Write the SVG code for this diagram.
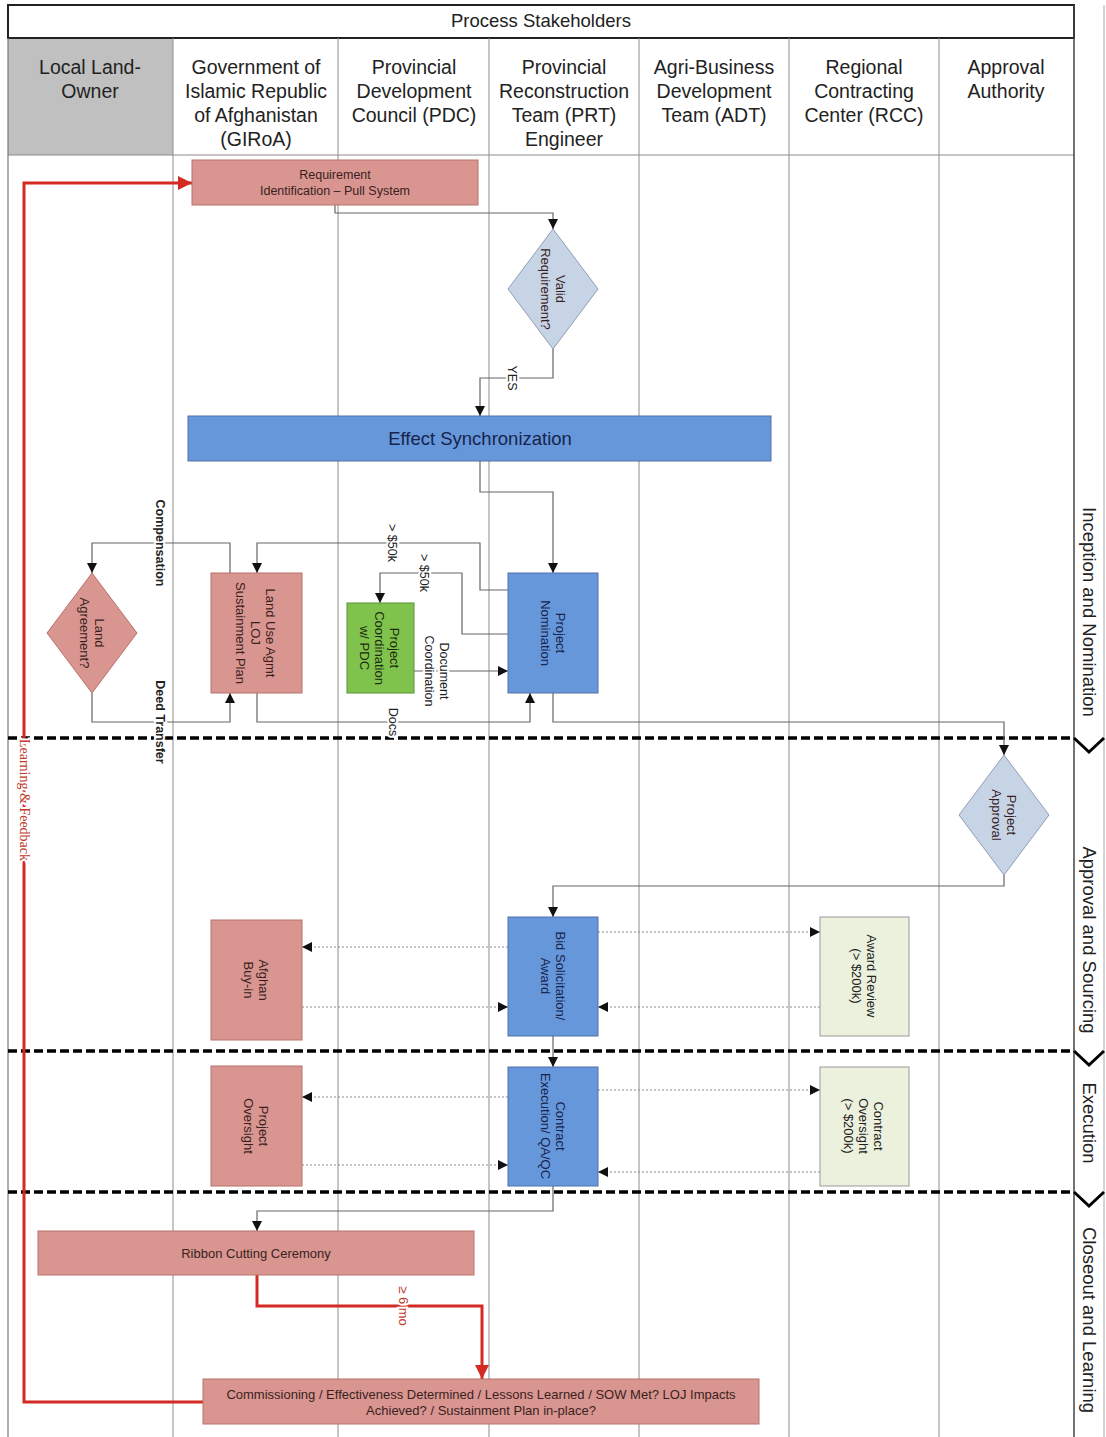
<svg xmlns="http://www.w3.org/2000/svg" width="1106" height="1437" viewBox="0 0 1106 1437">
<style>
.lane{stroke:#8c8c8c;stroke-width:1}
.hdr{font-family:"Liberation Sans",Arial,sans-serif;font-size:19.5px;fill:#222;text-anchor:middle}
.ph{font-family:"Liberation Sans",Arial,sans-serif;font-size:18.5px;fill:#222;text-anchor:middle;dominant-baseline:central}
.nt{font-family:"Liberation Sans",Arial,sans-serif;font-size:13px;text-anchor:middle;dominant-baseline:central;fill:#3a1f1f}
.bt{fill:#17244d}
.salmon{fill:#d9958f;stroke:#b8726d;stroke-width:1}
.blue{fill:#6697da;stroke:#4f72a8;stroke-width:1}
.dia{fill:#c7d4e6;stroke:#8f9db3;stroke-width:1}
.green{fill:#80c34c;stroke:#5d9136;stroke-width:1}
.beige{fill:#ecf1de;stroke:#9a9a9a;stroke-width:1}
.conn{fill:none;stroke:#666;stroke-width:1.2}
.dot{stroke:#8a8a8a;stroke-dasharray:2 2}
.red{stroke:#d42a24;stroke-width:3}
.phline{stroke:#000;stroke-width:3.5;stroke-dasharray:9 4;fill:none}
.chev{stroke:#000;stroke-width:3;fill:none}
.lbl{font-family:"Liberation Sans",Arial,sans-serif;font-size:12.5px;fill:#222;text-anchor:middle;dominant-baseline:central;paint-order:stroke;stroke:#fff;stroke-width:4px}
.bold{font-weight:bold}
.rlbl{fill:#c0392b}
</style>
<defs>
<marker id="ab" markerUnits="userSpaceOnUse" markerWidth="10" markerHeight="10" refX="10" refY="5" orient="auto"><path d="M0,0 L10,5 L0,10 z" fill="#111"/></marker>
<marker id="ar" markerUnits="userSpaceOnUse" markerWidth="14" markerHeight="14" refX="14" refY="7" orient="auto"><path d="M0,0 L14,7 L0,14 z" fill="#d42a24"/></marker>
</defs>
<rect x="0" y="0" width="1106" height="1437" fill="#fff"/>

<g id="frame">
<rect x="8" y="38" width="165" height="117" fill="#c0c0c0"/>
<rect x="8" y="5" width="1066" height="33" fill="#fff" stroke="#222" stroke-width="2"/>
<text class="hdr" x="541" y="27" style="font-size:18.5px">Process Stakeholders</text>
<line class="lane" x1="8" y1="155" x2="1074" y2="155"/>
<line x1="8" y1="38" x2="8" y2="1437" stroke="#777" stroke-width="1.2"/>
<line x1="1074" y1="5" x2="1074" y2="1437" stroke="#444" stroke-width="1.5"/>
<line x1="1104" y1="5" x2="1104" y2="1437" stroke="#aaa" stroke-width="1"/>
<line class="lane" x1="173" y1="38" x2="173" y2="1437"/>
<line class="lane" x1="338" y1="38" x2="338" y2="1437"/>
<line class="lane" x1="489" y1="38" x2="489" y2="1437"/>
<line class="lane" x1="639" y1="38" x2="639" y2="1437"/>
<line class="lane" x1="789" y1="38" x2="789" y2="1437"/>
<line class="lane" x1="939" y1="38" x2="939" y2="1437"/>
<text class="hdr" x="90"><tspan x="90" y="74">Local Land-</tspan><tspan x="90" y="98">Owner</tspan></text>
<text class="hdr" x="256"><tspan x="256" y="74">Government of</tspan><tspan x="256" y="98">Islamic Republic</tspan><tspan x="256" y="122">of Afghanistan</tspan><tspan x="256" y="146">(GIRoA)</tspan></text>
<text class="hdr" x="414"><tspan x="414" y="74">Provincial</tspan><tspan x="414" y="98">Development</tspan><tspan x="414" y="122">Council (PDC)</tspan></text>
<text class="hdr" x="564"><tspan x="564" y="74">Provincial</tspan><tspan x="564" y="98">Reconstruction</tspan><tspan x="564" y="122">Team (PRT)</tspan><tspan x="564" y="146">Engineer</tspan></text>
<text class="hdr" x="714"><tspan x="714" y="74">Agri-Business</tspan><tspan x="714" y="98">Development</tspan><tspan x="714" y="122">Team (ADT)</tspan></text>
<text class="hdr" x="864"><tspan x="864" y="74">Regional</tspan><tspan x="864" y="98">Contracting</tspan><tspan x="864" y="122">Center (RCC)</tspan></text>
<text class="hdr" x="1006"><tspan x="1006" y="74">Approval</tspan><tspan x="1006" y="98">Authority</tspan></text>
</g>

<g id="phases">
<line class="phline" x1="8" y1="738" x2="1074" y2="738"/>
<line class="phline" x1="8" y1="1051" x2="1074" y2="1051"/>
<line class="phline" x1="8" y1="1192" x2="1074" y2="1192"/>
<polyline class="chev" points="1074,738 1089,752 1104,738"/>
<polyline class="chev" points="1074,1051 1089,1065 1104,1051"/>
<polyline class="chev" points="1074,1192 1089,1206 1104,1192"/>
<text class="ph" transform="translate(1089,612) rotate(90)">Inception and Nomination</text>
<text class="ph" transform="translate(1089,940) rotate(90)">Approval and Sourcing</text>
<text class="ph" transform="translate(1089,1123) rotate(90)">Execution</text>
<text class="ph" transform="translate(1089,1320) rotate(90)">Closeout and Learning</text>
</g>

<g id="connectors">
<path class="conn" d="M335,205 V213 H553 V229" marker-end="url(#ab)"/>
<path class="conn" d="M553,349 V378 H480 V416" marker-end="url(#ab)"/>
<path class="conn" d="M480,461 V492 H553 V573" marker-end="url(#ab)"/>
<path class="conn" d="M508,590 H480 V543 H257 V573" marker-end="url(#ab)"/>
<path class="conn" d="M508,634 H462 V573 H380 V603" marker-end="url(#ab)"/>
<path class="conn" d="M414,671 H508" marker-end="url(#ab)"/>
<path class="conn" d="M257,693 V722 H530 V693" marker-end="url(#ab)"/>
<path class="conn" d="M230,573 V543 H92 V573" marker-end="url(#ab)"/>
<path class="conn" d="M92,693 V722 H230 V693" marker-end="url(#ab)"/>
<path class="conn" d="M553,693 V722 H1004 V755" marker-end="url(#ab)"/>
<path class="conn" d="M1004,875 V886 H553 V917" marker-end="url(#ab)"/>
<path class="conn dot" d="M508,947 H302" marker-end="url(#ab)"/>
<path class="conn dot" d="M302,1007 H508" marker-end="url(#ab)"/>
<path class="conn dot" d="M598,932 H820" marker-end="url(#ab)"/>
<path class="conn dot" d="M820,1007 H598" marker-end="url(#ab)"/>
<path class="conn" d="M553,1036 V1067" marker-end="url(#ab)"/>
<path class="conn dot" d="M508,1097 H302" marker-end="url(#ab)"/>
<path class="conn dot" d="M302,1165 H508" marker-end="url(#ab)"/>
<path class="conn dot" d="M598,1090 H820" marker-end="url(#ab)"/>
<path class="conn dot" d="M820,1172 H598" marker-end="url(#ab)"/>
<path class="conn" d="M553,1186 V1211 H257 V1231" marker-end="url(#ab)"/>
<path class="conn red" d="M257,1275 V1306 H482 V1379" marker-end="url(#ar)"/>
<path class="conn red" d="M203,1402 H24 V183 H192" marker-end="url(#ar)"/>
<text class="lbl" transform="translate(512,378) rotate(90)">YES</text>
<text class="lbl" transform="translate(392,543) rotate(90)">&gt; $50k</text>
<text class="lbl" transform="translate(424,573) rotate(90)">&gt; $50k</text>
<text class="lbl" transform="translate(437,671) rotate(90)"><tspan x="0" y="-7">Document</tspan><tspan x="0" y="8">Coordination</tspan></text>
<text class="lbl" transform="translate(393,722) rotate(90)">Docs</text>
<text class="lbl bold" transform="translate(160,543) rotate(90)">Compensation</text>
<text class="lbl bold" transform="translate(160,722) rotate(90)">Deed Transfer</text>
<text class="lbl rlbl" transform="translate(403,1306) rotate(90)" style="font-size:13px">≥ 6 mo</text>
<text class="lbl rlbl" transform="translate(24,800) rotate(90)" style="font-family:'Liberation Serif',serif;font-size:14px">Learning &amp; Feedback</text>
</g>

<g id="req">
<rect class="salmon" x="192" y="160" width="286" height="45"/>
<text class="nt" style="font-size:12.5px"><tspan x="335" y="175">Requirement</tspan><tspan x="335" y="191">Identification – Pull System</tspan></text>
</g>
<g id="valid">
<polygon class="dia" points="553,229 598,289 553,349 508,289"/>
<text class="nt" transform="translate(553,289) rotate(90)"><tspan x="0" y="-7.5">Valid</tspan><tspan x="0" y="7.5">Requirement?</tspan></text>
</g>
<g id="effect">
<rect class="blue" x="188" y="416" width="583" height="45"/>
<text class="nt bt" x="480" y="438" style="font-size:18.5px">Effect Synchronization</text>
</g>
<g id="nomination">
<rect class="blue" x="508" y="573" width="90" height="120"/>
<text class="nt bt" transform="translate(553,633) rotate(90)"><tspan x="0" y="-7.5">Project</tspan><tspan x="0" y="7.5">Nomination</tspan></text>
</g>
<g id="pdc">
<rect class="green" x="347" y="603" width="67" height="90"/>
<text class="nt" style="fill:#1d2a10" transform="translate(380,648) rotate(90)"><tspan x="0" y="-15">Project</tspan><tspan x="0" y="0">Coordination</tspan><tspan x="0" y="15">w/ PDC</tspan></text>
</g>
<g id="landuse">
<rect class="salmon" x="211" y="573" width="91" height="120"/>
<text class="nt" transform="translate(256,633) rotate(90)"><tspan x="0" y="-15">Land Use Agmt</tspan><tspan x="0" y="0">LOJ</tspan><tspan x="0" y="15">Sustainment Plan</tspan></text>
</g>
<g id="landagree">
<polygon class="salmon" points="92,573 137,633 92,693 47,633"/>
<text class="nt" transform="translate(92,633) rotate(90)"><tspan x="0" y="-7.5">Land</tspan><tspan x="0" y="7.5">Agreement?</tspan></text>
</g>
<g id="approval">
<polygon class="dia" points="1004,755 1049,815 1004,875 959,815"/>
<text class="nt" transform="translate(1004,815) rotate(90)"><tspan x="0" y="-7.5">Project</tspan><tspan x="0" y="7.5">Approval</tspan></text>
</g>
<g id="bid">
<rect class="blue" x="508" y="917" width="90" height="119"/>
<text class="nt bt" transform="translate(553,976) rotate(90)"><tspan x="0" y="-7.5">Bid Solicitation/</tspan><tspan x="0" y="7.5">Award</tspan></text>
</g>
<g id="buyin">
<rect class="salmon" x="211" y="920" width="91" height="120"/>
<text class="nt" transform="translate(256,980) rotate(90)"><tspan x="0" y="-7.5">Afghan</tspan><tspan x="0" y="7.5">Buy-in</tspan></text>
</g>
<g id="awardreview">
<rect class="beige" x="820" y="917" width="89" height="119"/>
<text class="nt" style="fill:#222" transform="translate(864,976) rotate(90)"><tspan x="0" y="-7.5">Award Review</tspan><tspan x="0" y="7.5">(&gt; $200k)</tspan></text>
</g>
<g id="contractexec">
<rect class="blue" x="508" y="1067" width="90" height="119"/>
<text class="nt bt" transform="translate(553,1126) rotate(90)"><tspan x="0" y="-7.5">Contract</tspan><tspan x="0" y="7.5">Execution/ QA/QC</tspan></text>
</g>
<g id="oversight">
<rect class="salmon" x="211" y="1066" width="91" height="120"/>
<text class="nt" transform="translate(256,1126) rotate(90)"><tspan x="0" y="-7.5">Project</tspan><tspan x="0" y="7.5">Oversight</tspan></text>
</g>
<g id="contractoversight">
<rect class="beige" x="820" y="1067" width="89" height="119"/>
<text class="nt" style="fill:#222" transform="translate(864,1126) rotate(90)"><tspan x="0" y="-15">Contract</tspan><tspan x="0" y="0">Oversight</tspan><tspan x="0" y="15">(&gt; $200k)</tspan></text>
</g>
<g id="ribbon">
<rect class="salmon" x="38" y="1231" width="436" height="44"/>
<text class="nt" x="256" y="1253">Ribbon Cutting Ceremony</text>
</g>
<g id="commissioning">
<rect class="salmon" x="203" y="1379" width="556" height="45"/>
<text class="nt"><tspan x="481" y="1394">Commissioning / Effectiveness Determined / Lessons Learned / SOW Met? LOJ Impacts</tspan><tspan x="481" y="1410">Achieved? / Sustainment Plan in-place?</tspan></text>
</g>
</svg>
